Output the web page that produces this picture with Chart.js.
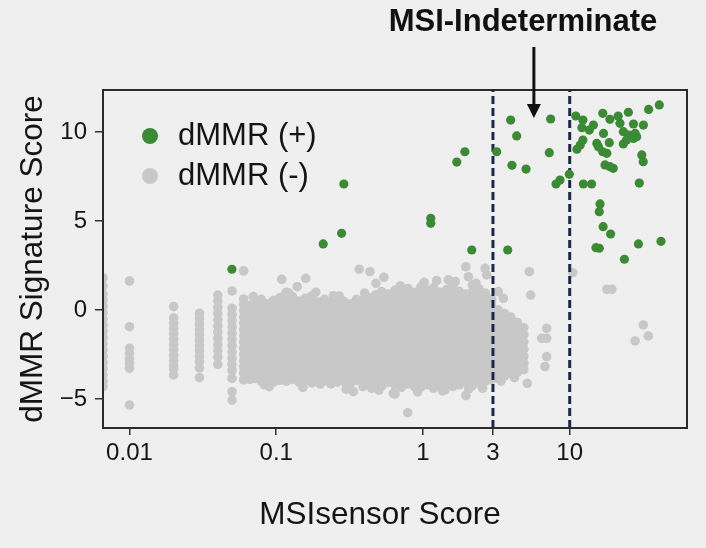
<!DOCTYPE html>
<html>
<head>
<meta charset="utf-8">
<script src="https://cdn.jsdelivr.net/npm/chart.js@4.4.1/dist/chart.umd.min.js"></script>
<style>
  html, body { margin: 0; padding: 0; background: #efefef; }
  canvas { display: block; }
</style>
</head>
<body>
<canvas id="msiChart" width="706" height="548"></canvas>
<script>
const FONT = "'Liberation Sans', Arial, Helvetica, sans-serif";
const GREEN = '#3d8a36';
const GRAY = '#c8c8c8';
const INK = '#151515';

// axes
const xTickValues = [0.01, 0.1, 1, 3, 10];
const xTickLabels = ['0.01', '0.1', '1', '3', '10'];
const yTickValues = [-5, 0, 5, 10];
const yTickLabels = ['\u22125', '0', '5', '10'];
const cutoffs = [3, 10];
const arrowX = 5.7;

// dMMR (+)
const posX = [0.289, 0.279, 0.209, 0.0499, 3.96, 7.42, 4.35, 1.93, 1.70, 3.18, 7.26, 4.04, 5.04, 9.94, 8.59, 8.07,
  12.4, 14.1, 1.13, 1.13, 2.15, 3.78, 16.1, 15.9, 16.9, 19.0, 15.1, 15.9, 23.6, 29.4, 41.9, 29.8, 31.0, 31.7,
  40.8, 34.5, 25.1, 16.8, 21.4, 11.0, 12.3, 18.8, 22.0, 27.2, 31.8, 14.5, 12.1, 13.6, 17.0, 23.2, 25.1, 27.9,
  24.4, 27.2, 28.6, 18.6, 15.3, 15.7, 23.2, 12.3, 11.8, 11.2, 16.8, 17.9, 17.4, 19.8, 18.8];
const posY = [7.08, 4.31, 3.71, 2.29, 10.67, 10.73, 9.78, 8.89, 8.31, 8.89, 8.84, 8.13, 7.92, 7.62, 7.30, 7.08,
  7.08, 7.08, 5.15, 4.87, 3.37, 3.37, 5.96, 5.52, 4.68, 4.27, 3.50, 3.47, 2.85, 3.71, 3.86, 7.13, 8.71, 8.33,
  11.52, 11.27, 11.11, 11.05, 10.90, 10.90, 10.67, 10.71, 10.49, 10.45, 10.39, 10.39, 10.24, 10.11, 9.92, 10.02, 9.83, 9.92,
  9.55, 9.64, 9.74, 9.40, 9.36, 9.17, 9.33, 9.55, 9.27, 9.03, 8.89, 8.80, 8.15, 7.96, 8.05];

// dMMR (-): low-score columns
const colX = [0.0066, 0.01, 0.02, 0.03, 0.04, 0.05, 0.06];
const colY = [
  [1.8, 1.35, 0.9, 0.55, 0.2, -0.15, -0.5, -0.85, -1.2, -1.55, -1.9, -2.25, -2.6, -2.95, -3.3, -3.65, -4.0, -4.3],
  [1.63, -0.94, -2.15, -2.45, -2.75, -3.0, -3.28, -5.34],
  [0.19, -0.45, -0.75, -1.05, -1.35, -1.65, -1.95, -2.25, -2.55, -2.85, -3.15, -3.3, -3.65],
  [-0.19, -0.5, -0.8, -1.1, -1.4, -1.7, -2.0, -2.3, -2.6, -2.9, -3.25, -3.8],
  [0.84, 0.5, 0.15, -0.2, -0.55, -0.9, -1.25, -1.6, -1.95, -2.3, -2.65, -3.05],
  [1.07, 0.1, -0.25, -0.6, -0.95, -1.3, -1.65, -2.0, -2.35, -2.7, -3.05, -3.4, -3.84, -4.59, -5.06],
  [2.2, 0.62, 0.3, -0.05, -0.4, -0.75, -1.1, -1.45, -1.8, -2.15, -2.5, -2.85, -3.2, -3.55, -3.93]
];

// dMMR (-): main cloud
const cloudX = [0.066, 0.072, 0.079, 0.087, 0.096, 0.106, 0.117, 0.129, 0.143, 0.158, 0.175, 0.193, 0.213, 0.236,
  0.26, 0.288, 0.318, 0.352, 0.39, 0.43, 0.476, 0.527, 0.583, 0.645, 0.713, 0.79, 0.874, 0.967, 1.07, 1.18,
  1.31, 1.45, 1.6, 1.77, 1.96, 2.17, 2.4, 2.66, 2.94, 3.25, 3.6, 3.98, 4.4, 4.87];
const cloudY = [
  [0.25, -0.1, -0.45, -0.8, -1.15, -1.5, -1.85, -2.2, -2.55, -2.9, -3.25, -3.6, -3.9],
  [0.45, 0.05, -0.3, -0.7, -1.0, -1.4, -1.75, -2.1, -2.45, -2.8, -3.15, -3.5, -3.85],
  [0.6, 0.2, -0.2, -0.55, -0.9, -1.25, -1.6, -1.95, -2.3, -2.65, -3.0, -3.35, -3.7, -4.0],
  [0.35, 0.0, -0.35, -0.7, -1.05, -1.4, -1.75, -2.1, -2.45, -2.8, -3.2, -3.55, -3.9],
  [0.55, 0.15, -0.2, -0.6, -0.95, -1.3, -1.65, -2.0, -2.35, -2.7, -3.05, -3.4, -3.75, -4.05],
  [0.7, 0.3, -0.1, -0.45, -0.8, -1.15, -1.5, -1.85, -2.2, -2.55, -2.9, -3.25, -3.6, -3.95],
  [1.0, 0.6, 0.2, -0.2, -0.55, -0.9, -1.25, -1.6, -1.95, -2.3, -2.65, -3.0, -3.35, -3.7, -4.0],
  [0.75, 0.35, 0.0, -0.35, -0.7, -1.05, -1.4, -1.8, -2.15, -2.5, -2.85, -3.2, -3.55, -3.9],
  [0.5, 0.15, -0.2, -0.55, -0.9, -1.25, -1.6, -1.95, -2.3, -2.65, -3.0, -3.35, -3.7, -4.05],
  [0.65, 0.25, -0.1, -0.45, -0.85, -1.2, -1.55, -1.9, -2.25, -2.6, -2.95, -3.3, -3.65, -3.95],
  [0.8, 0.4, 0.05, -0.3, -0.65, -1.0, -1.35, -1.7, -2.05, -2.4, -2.75, -3.1, -3.45, -3.8, -4.1],
  [0.45, 0.1, -0.25, -0.6, -0.95, -1.3, -1.65, -2.0, -2.35, -2.7, -3.05, -3.4, -3.75, -4.0],
  [0.6, 0.2, -0.15, -0.5, -0.85, -1.2, -1.55, -1.9, -2.25, -2.6, -2.95, -3.3, -3.65, -4.0],
  [0.4, 0.05, -0.3, -0.65, -1.0, -1.35, -1.7, -2.05, -2.4, -2.75, -3.1, -3.45, -3.8, -4.15],
  [0.55, 0.2, -0.15, -0.5, -0.9, -1.25, -1.6, -1.95, -2.3, -2.65, -3.0, -3.35, -3.7, -4.05],
  [0.5, 0.15, -0.2, -0.55, -0.9, -1.25, -1.6, -1.95, -2.3, -2.65, -3.0, -3.35, -3.7, -4.0],
  [0.35, 0.0, -0.35, -0.7, -1.05, -1.4, -1.75, -2.1, -2.45, -2.8, -3.15, -3.5, -3.85, -4.2],
  [0.6, 0.25, -0.1, -0.45, -0.8, -1.15, -1.5, -1.85, -2.2, -2.55, -2.9, -3.25, -3.6, -3.95],
  [0.55, 0.2, -0.15, -0.5, -0.85, -1.2, -1.55, -1.9, -2.25, -2.6, -2.95, -3.3, -3.65, -4.0, -4.3],
  [0.7, 0.3, -0.05, -0.4, -0.75, -1.1, -1.45, -1.8, -2.15, -2.5, -2.85, -3.2, -3.55, -3.9, -4.2],
  [0.85, 0.45, 0.1, -0.25, -0.6, -0.95, -1.3, -1.65, -2.0, -2.35, -2.7, -3.05, -3.4, -3.75, -4.1],
  [0.65, 0.3, -0.05, -0.4, -0.75, -1.1, -1.45, -1.8, -2.15, -2.5, -2.85, -3.2, -3.55, -3.9, -4.25],
  [0.9, 0.5, 0.15, -0.2, -0.55, -0.9, -1.25, -1.6, -1.95, -2.3, -2.65, -3.0, -3.35, -3.7, -4.05],
  [1.1, 0.7, 0.3, -0.05, -0.4, -0.75, -1.1, -1.45, -1.8, -2.15, -2.5, -2.85, -3.2, -3.55, -3.9, -4.2],
  [0.95, 0.55, 0.2, -0.15, -0.5, -0.85, -1.2, -1.55, -1.9, -2.25, -2.6, -2.95, -3.3, -3.65, -4.0, -4.35],
  [1.2, 0.8, 0.4, 0.05, -0.3, -0.65, -1.0, -1.35, -1.7, -2.05, -2.4, -2.75, -3.1, -3.45, -3.8, -4.15],
  [1.0, 0.6, 0.25, -0.1, -0.45, -0.8, -1.15, -1.5, -1.85, -2.2, -2.55, -2.9, -3.25, -3.6, -3.95, -4.3],
  [1.3, 0.9, 0.5, 0.15, -0.2, -0.55, -0.9, -1.25, -1.6, -1.95, -2.3, -2.65, -3.0, -3.35, -3.7, -4.05, -4.35],
  [1.1, 0.7, 0.35, 0.0, -0.35, -0.7, -1.05, -1.4, -1.75, -2.1, -2.45, -2.8, -3.15, -3.5, -3.85, -4.2],
  [1.25, 0.85, 0.45, 0.1, -0.25, -0.6, -0.95, -1.3, -1.65, -2.0, -2.35, -2.7, -3.05, -3.4, -3.75, -4.1, -4.4],
  [1.0, 0.6, 0.25, -0.1, -0.45, -0.8, -1.15, -1.5, -1.85, -2.2, -2.55, -2.9, -3.25, -3.6, -3.95, -4.25],
  [1.15, 0.75, 0.4, 0.05, -0.3, -0.65, -1.0, -1.35, -1.7, -2.05, -2.4, -2.75, -3.1, -3.45, -3.8, -4.15],
  [1.35, 0.95, 0.55, 0.2, -0.15, -0.5, -0.85, -1.2, -1.55, -1.9, -2.25, -2.6, -2.95, -3.3, -3.65, -4.0, -4.3],
  [1.05, 0.65, 0.3, -0.05, -0.4, -0.75, -1.1, -1.45, -1.8, -2.15, -2.5, -2.85, -3.2, -3.55, -3.9, -4.2],
  [0.9, 0.5, 0.15, -0.2, -0.55, -0.9, -1.25, -1.6, -1.95, -2.3, -2.65, -3.0, -3.35, -3.7, -4.05],
  [1.4, 1.0, 0.6, 0.25, -0.1, -0.45, -0.8, -1.15, -1.5, -1.85, -2.2, -2.55, -2.9, -3.25, -3.6, -3.95, -4.25],
  [1.2, 0.8, 0.4, 0.05, -0.3, -0.65, -1.0, -1.35, -1.7, -2.05, -2.4, -2.75, -3.1, -3.45, -3.8, -4.1],
  [0.95, 0.55, 0.2, -0.15, -0.5, -0.85, -1.2, -1.55, -1.9, -2.25, -2.6, -2.95, -3.3, -3.65, -4.0],
  [0.6, 0.25, -0.1, -0.45, -0.8, -1.15, -1.5, -1.85, -2.2, -2.55, -2.9, -3.25, -3.6, -3.9],
  [0.0, -0.35, -0.7, -1.05, -1.4, -1.75, -2.1, -2.45, -2.8, -3.15, -3.5, -3.85],
  [-0.2, -0.55, -0.9, -1.25, -1.6, -1.95, -2.3, -2.65, -3.0, -3.35, -3.7],
  [-0.4, -0.75, -1.1, -1.45, -1.8, -2.15, -2.5, -2.85, -3.2, -3.55],
  [-0.7, -1.05, -1.4, -1.75, -2.1, -2.45, -2.8, -3.15, -3.5],
  [-1.0, -1.4, -1.8, -2.2, -2.6, -3.0, -3.35]
];

// dMMR (-): scattered outliers and ragged cloud edge
const outX = [0.109, 0.159, 0.139, 0.0697, 0.269, 0.368, 0.435, 0.542, 0.478, 0.523, 0.0896, 0.199, 0.335, 0.447,
  0.628, 1.96, 2.04, 2.65, 2.72, 1.24, 1.49, 0.98, 5.30, 5.42, 3.53, 3.26, 6.97, 6.44, 6.97, 6.97, 6.79, 5.14,
  1.96, 0.645, 1.41, 0.787, 10.5, 17.9, 19.4, 31.7, 34.3, 27.9,
  0.122, 0.186, 0.245, 0.4, 0.7, 1.02, 1.66, 2.3, 0.083, 0.152, 0.3, 0.5, 0.92, 1.36, 2.05, 2.55, 3.4, 4.2];
const outY = [1.72, 1.78, 1.31, 0.75, 0.79, 2.29, 2.15, 1.84, 1.5, 1.03, -4.31, -4.16, -4.59, -4.4,
  -4.68, 2.43, 1.87, 2.34, 1.97, 1.65, 1.69, 1.28, 2.15, 0.84, 0.66, 1.03, -1.03, -1.59, -1.59, -2.62, -3.18, -4.12,
  -4.81, -4.72, -4.49, -5.77, 2.1, 1.16, 1.16, -0.84, -1.46, -1.74,
  0.95, 1.0, 0.8, 0.95, 1.35, 1.55, 1.6, 1.5, -4.2, -4.35, -4.45, -4.5, -4.6, -4.55, -4.45, -4.4, -4.0, -3.8];

const X_MIN = 0.0066, X_MAX = 63;
const Y_MIN = -6.63, Y_MAX = 12.36;

function buildNegative() {
  let pts = [];
  colX.forEach((x, i) => colY[i].forEach(y => pts.push({ x, y })));
  cloudX.forEach((x, i) => cloudY[i].forEach(y => pts.push({ x, y })));
  outX.forEach((x, i) => pts.push({ x, y: outY[i] }));
  return pts;
}

const positive = posX.map((x, i) => ({ x, y: posY[i] }));

const backdrop = {
  id: 'backdrop',
  beforeDraw(chart) {
    const { ctx, width, height } = chart;
    ctx.save();
    ctx.fillStyle = '#efefef';
    ctx.fillRect(0, 0, width, height);
    ctx.restore();
  }
};

const frame = {
  id: 'frame',
  afterDatasetsDraw(chart) {
    const { ctx, chartArea: a } = chart;
    ctx.save();
    ctx.strokeStyle = '#2b2b2b';
    ctx.lineWidth = 2;
    ctx.strokeRect(a.left, a.top, a.right - a.left, a.bottom - a.top);
    ctx.restore();
  }
};

// legend, x title and the MSI-Indeterminate callout
const annotate = {
  id: 'annotate',
  afterDraw(chart) {
    const { ctx } = chart;
    const xs = chart.scales.x;
    ctx.save();

    const items = [['dMMR (+)', GREEN, 136], ['dMMR (-)', GRAY, 176]];
    items.forEach(([label, color, cy]) => {
      ctx.beginPath();
      ctx.arc(150, cy, 8, 0, Math.PI * 2);
      ctx.fillStyle = color;
      ctx.fill();
      ctx.fillStyle = INK;
      ctx.font = '31px ' + FONT;
      ctx.textAlign = 'left';
      ctx.textBaseline = 'middle';
      ctx.fillText(label, 178, cy);
    });

    ctx.font = '31.5px ' + FONT;
    ctx.textAlign = 'center';
    ctx.textBaseline = 'middle';
    ctx.fillStyle = INK;
    ctx.fillText('MSIsensor Score', 380, 515);

    ctx.font = 'bold 31px ' + FONT;
    ctx.textBaseline = 'alphabetic';
    ctx.fillStyle = '#111';
    ctx.fillText('MSI-Indeterminate', 523, 31);

    const ax = xs.getPixelForValue(arrowX);
    ctx.strokeStyle = '#111';
    ctx.lineWidth = 3;
    ctx.beginPath();
    ctx.moveTo(ax, 47);
    ctx.lineTo(ax, 106);
    ctx.stroke();
    ctx.beginPath();
    ctx.moveTo(ax - 7, 104);
    ctx.lineTo(ax + 7, 104);
    ctx.lineTo(ax, 118);
    ctx.closePath();
    ctx.fillStyle = '#111';
    ctx.fill();
    ctx.restore();
  }
};

const cutoffSets = cutoffs.map(c => ({
  type: 'line',
  data: [{ x: c, y: Y_MIN }, { x: c, y: Y_MAX }],
  borderColor: '#1c2a48',
  borderWidth: 3,
  borderDash: [8, 4],
  pointRadius: 0,
  order: 1
}));

new Chart(document.getElementById('msiChart'), {
  type: 'scatter',
  data: {
    datasets: [
      { label: 'dMMR (+)', data: positive, backgroundColor: GREEN, borderWidth: 0, pointRadius: 4.6, order: 0 },
      ...cutoffSets,
      { label: 'dMMR (-)', data: buildNegative(), backgroundColor: GRAY, borderWidth: 0, pointRadius: 4.8, order: 2, clip: 0 }
    ]
  },
  options: {
    responsive: false,
    animation: false,
    devicePixelRatio: 1,
    layout: { padding: { top: 90, right: 19, left: 0, bottom: 0 } },
    plugins: { legend: { display: false }, tooltip: { enabled: false } },
    scales: {
      x: {
        type: 'logarithmic',
        min: X_MIN,
        max: X_MAX,
        afterBuildTicks: s => { s.ticks = xTickValues.map(v => ({ value: v })); },
        afterFit: s => { s.height = 120; },
        ticks: {
          callback: (v, i) => xTickLabels[i],
          font: { family: FONT, size: 24 },
          color: INK,
          padding: 4,
          maxRotation: 0,
          autoSkip: false
        },
        grid: { drawOnChartArea: false, tickLength: 7, color: '#333', lineWidth: 1.5 },
        border: { color: '#2b2b2b', width: 2 },
        title: { display: false }
      },
      y: {
        min: Y_MIN,
        max: Y_MAX,
        afterBuildTicks: s => { s.ticks = yTickValues.map(v => ({ value: v })); },
        afterFit: s => { s.width = 103; },
        ticks: {
          callback: (v, i) => yTickLabels[i],
          font: { family: FONT, size: 24 },
          color: INK,
          padding: 8
        },
        grid: { drawOnChartArea: false, tickLength: 8, color: '#333', lineWidth: 1.5 },
        border: { color: '#2b2b2b', width: 2 },
        title: { display: true, text: 'dMMR Signature Score', font: { family: FONT, size: 31.5 }, color: INK, padding: { top: 14, bottom: 0 } }
      }
    }
  },
  plugins: [backdrop, frame, annotate]
});
</script>
</body>
</html>
